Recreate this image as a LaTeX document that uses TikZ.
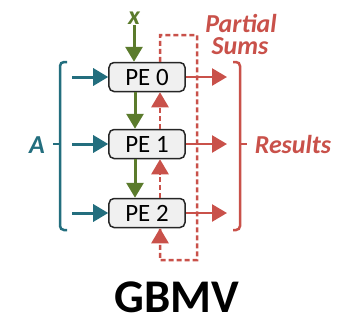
\documentclass[tikz,border=0pt]{standalone}
\usepackage{fontspec}
\setmainfont{Carlito}
\usetikzlibrary{arrows.meta}
\definecolor{cteal}{HTML}{236E7E}
\definecolor{cgreen}{HTML}{5B7B2C}
\definecolor{cred}{HTML}{C9514A}
\definecolor{cbox}{HTML}{F0F0F0}
\tikzset{
  pe/.style={draw=black!85, line width=1.5bp, rounded corners=5bp, fill=cbox,
    minimum width=76bp, minimum height=29bp, inner sep=0pt,
    font=\fontsize{25}{26}\selectfont},
  lbl/.style={font=\fontsize{26}{26}\selectfont\bfseries\itshape, inner sep=0pt},
  tip/.style={-{Triangle[length=15bp,width=17bp]}},
  garrow/.style={tip, draw=cgreen, line width=3bp},
  tarrow/.style={tip, draw=cteal, line width=3bp},
  rarrow/.style={tip, draw=cred, line width=2.5bp},
  rdash/.style={draw=cred, line width=2.5bp, dash pattern=on 5bp off 3bp},
  brk/.style={line width=2.5bp, rounded corners=4bp},
}
\begin{document}
\begin{tikzpicture}[x=1bp,y=-1bp]
\useasboundingbox (0,0) rectangle (349,321);
\node[pe] (pe0) at (147,77) {PE 0};
\node[pe] (pe1) at (147,144) {PE 1};
\node[pe] (pe2) at (147,213) {PE 2};
% labels
\node[lbl, text=cgreen] (x) at (134,18) {x};
\node[lbl, text=cteal] (A) at (37,145) {A};
\node[lbl, text=cred, align=center] (ps1) at (241,23) {Partial};
\node[lbl, text=cred, align=center] (ps2) at (240,46) {Sums};
\node[lbl, text=cred] (res) at (293,145) {Results};
\node[font=\fontsize{47}{48}\selectfont\bfseries, inner sep=0pt] (title) at (177,297) {GBMV};
% green arrows
\draw[garrow] (x.south) ++(0,1) coordinate (xs) -- (xs |- pe0.north);
\draw[garrow] ([xshift=-12bp]pe0.south) -- ([xshift=-12bp]pe1.north);
\draw[garrow] ([xshift=-12bp]pe1.south) -- ([xshift=-12bp]pe2.north);
% teal inputs
\coordinate (a0) at (72,77);
\coordinate (a1) at (72,144);
\coordinate (a2) at (72,213);
\draw[tarrow] (a0) -- (pe0.west);
\draw[tarrow] (a1) -- (pe1.west);
\draw[tarrow] (a2) -- (pe2.west);
% left bracket
\draw[brk, cteal] (67,62) -- (60,62) -- (60,230) -- (67,230);
\draw[cteal, line width=2.5bp] (60,144) -- (53,144);
% partial sums loop
\coordinate (c1) at (160,35);
\coordinate (c2) at (197,35);
\coordinate (c3) at (197,260);
\coordinate (c4) at (160,260);
\draw[rdash] ([xshift=13bp]pe0.north) -- (c1) -- (c2) -- (c3) -- (c4) -- (c4 |- pe2.south);
\draw[rarrow, dash pattern=on 5bp off 3bp] ([xshift=13bp,yshift=-14bp]pe2.south) -- ([xshift=13bp]pe2.south);
\draw[rarrow, dash pattern=on 5bp off 3bp] ([xshift=13bp]pe2.north) -- ([xshift=13bp]pe1.south);
\draw[rarrow, dash pattern=on 5bp off 3bp] ([xshift=13bp]pe1.north) -- ([xshift=13bp]pe0.south);
% results
\coordinate (r0) at (227,77);
\coordinate (r1) at (227,144);
\coordinate (r2) at (227,213);
\draw[rarrow] (pe0.east) -- (r0);
\draw[rarrow] (pe1.east) -- (r1);
\draw[rarrow] (pe2.east) -- (r2);
\draw[brk, cred] (233,62) -- (240,62) -- (240,230) -- (233,230);
\draw[cred, line width=2.5bp] (240,144) -- (247,144);
\end{tikzpicture}
\end{document}
